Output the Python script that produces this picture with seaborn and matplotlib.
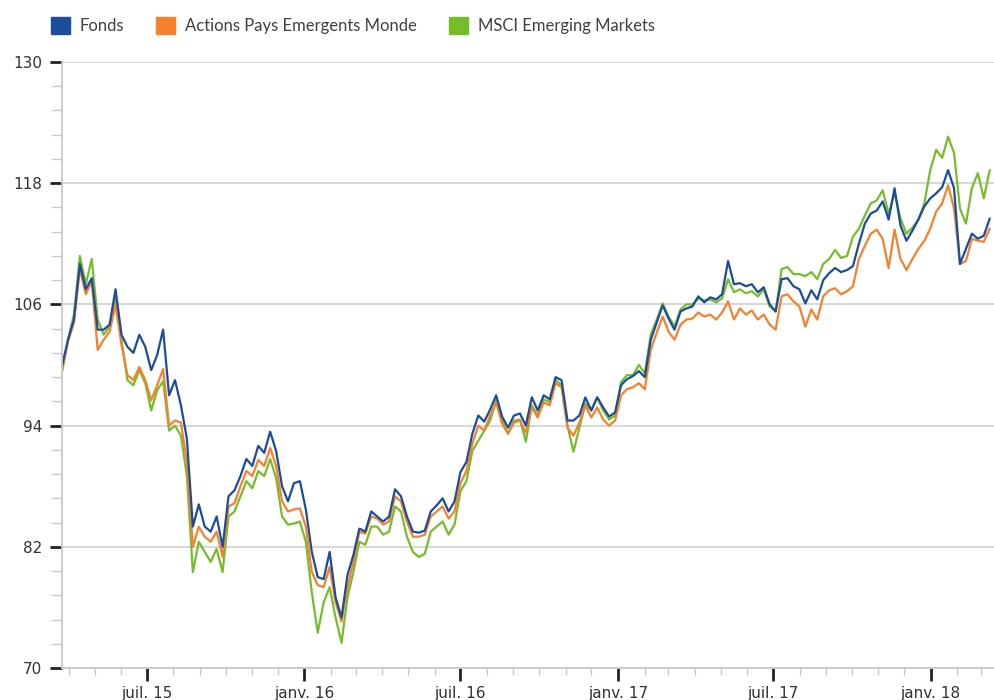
import numpy as np
import pandas as pd
import matplotlib
matplotlib.use('Agg')
import matplotlib.pyplot as plt
import matplotlib.dates as mdates
from matplotlib.patches import Patch
from matplotlib.ticker import FixedLocator
import seaborn as sns

# weekly values (base 100)
dates = pd.date_range('2015-03-24', '2018-03-11', periods=157)

fonds = [99.9, 102.5, 104.5, 110, 107.5, 108.6, 103.5, 103.5, 104, 107.5,
         103, 101.8, 101.2, 103, 101.8, 99.5, 101, 103.5, 97, 98.5,
         96, 92.7, 84, 86.2, 84, 83.5, 85, 82, 87, 87.6,
         89, 90.7, 90, 92, 91.3, 93.4, 91.5, 88, 86.5, 88.3,
         88.5, 85.7, 81.5, 79, 78.8, 81.5, 77, 75, 79.2, 81.2,
         83.8, 83.5, 85.5, 85, 84.5, 85, 87.7, 87, 85, 83.5,
         83.4, 83.6, 85.5, 86.1, 86.8, 85.5, 86.5, 89.4, 90.4, 93.2,
         95, 94.4, 95.6, 97, 94.9, 93.8, 95, 95.2, 94, 96.8,
         95.5, 97, 96.6, 98.8, 98.5, 94.5, 94.5, 95, 96.8, 95.5,
         96.8, 95.8, 94.9, 95.3, 98, 98.6, 98.9, 99.4, 98.8, 102.5,
         104.2, 105.9, 104.6, 103.5, 105.3, 105.6, 105.8, 106.8, 106.2, 106.7,
         106.5, 107, 110.3, 108, 108.1, 107.8, 108, 107.2, 107.7, 106,
         105.3, 108.5, 108.6, 107.8, 107.5, 106.1, 107.4, 106.5, 108.4, 109.1,
         109.6, 109.2, 109.4, 109.8, 112, 114, 115, 115.3, 116.2, 114.4,
         117.5, 113.8, 112.3, 113.3, 114.4, 115.7, 116.5, 117, 117.6, 119.3,
         117.5, 110, 111.5, 113, 112.5, 112.8, 114.5]

actions = [99.5, 102.3, 104.2, 109.5, 107, 108.3, 101.5, 102.5, 103.3, 106,
           102, 99, 98.5, 99.8, 98.5, 96.5, 98, 99.6, 94, 94.5,
           94.3, 90.4, 82, 84, 83, 82.5, 83.5, 81, 86, 86.3,
           88, 89.5, 89, 90.6, 90, 91.8, 90, 86.5, 85.5, 85.7,
           85.8, 84, 79.5, 78.2, 78, 80, 76.5, 74.6, 78, 80.5,
           83.5, 83.3, 85, 84.8, 84.2, 84.5, 87, 86.5, 84.5, 83,
           83, 83.2, 85, 85.5, 86, 84.8, 85.5, 88.3, 89.5, 92.2,
           94, 93.5, 95, 96.3, 94.2, 93.2, 94.3, 94.5, 93.3, 95.8,
           94.8, 96.3, 96, 98.2, 97.8, 93.8, 93, 94.3, 96, 94.8,
           95.8, 94.6, 94, 94.5, 97, 97.6, 97.8, 98.2, 97.6, 101.5,
           103.2, 104.8, 103.3, 102.5, 104, 104.5, 104.6, 105.2, 104.8, 105,
           104.5, 105.2, 106.3, 104.5, 105.6, 105, 105.4, 104.5, 105, 104,
           103.5, 106.8, 107, 106.3, 105.8, 103.8, 105.5, 104.5, 106.8, 107.4,
           107.6, 107, 107.3, 107.8, 110.5, 111.8, 113, 113.4, 112.5, 109.6,
           113.4, 110.5, 109.4, 110.5, 111.5, 112.3, 113.5, 115.2, 116, 117.8,
           115.5, 110, 110.3, 112.5, 112.3, 112.2, 113.5]

msci = [99.3, 102.5, 105, 110.8, 108, 110.5, 104.5, 103, 103.8, 106.8,
        102.5, 98.5, 98, 99.5, 98.2, 95.5, 97.5, 98.4, 93.5, 94,
        93, 89, 79.5, 82.5, 81.5, 80.5, 81.8, 79.5, 85, 85.5,
        87, 88.5, 87.8, 89.5, 89, 90.7, 88.8, 85, 84.2, 84.3,
        84.5, 82.5, 77.5, 73.5, 76.5, 78, 75, 72.5, 77, 79.5,
        82.5, 82.2, 84, 84, 83.2, 83.5, 86, 85.5, 83, 81.5,
        81, 81.3, 83.5, 84, 84.5, 83.2, 84.2, 87.5, 88.5, 91.5,
        92.5, 93.5, 94.5, 96.5, 94.5, 93.2, 94.5, 94.6, 92.4, 96,
        95, 96.6, 96.3, 98.5, 98, 94, 91.4, 93.8, 96.2, 95.5,
        96.8, 95.5, 94.6, 95, 98.3, 99, 99, 100, 99.2, 103,
        104.5, 106.1, 104.8, 103.8, 105.5, 106, 106, 106.6, 106.4, 106.5,
        106.2, 106.6, 108.5, 107.2, 107.5, 107.1, 107.3, 106.8, 107.5, 105.8,
        105.3, 109.5, 109.7, 109, 109, 108.8, 109.2, 108.5, 110, 110.5,
        111.4, 110.6, 110.8, 112.7, 113.5, 114.8, 116, 116.3, 117.3, 115,
        117, 114.5, 113, 113.6, 114.4, 116, 119.3, 121.3, 120.5, 122.6,
        121, 115.5, 114, 117.5, 119, 116.5, 119.3]

series_names = ['Fonds', 'Actions Pays Emergents Monde', 'MSCI Emerging Markets']
colors = ['#1c4c9c', '#f4812e', '#76bd2b']
tick_dates = pd.to_datetime(['2015-07-01', '2016-01-01', '2016-07-01',
                             '2017-01-01', '2017-07-01', '2018-01-01'])
tick_labels = ['juil. 15', 'janv. 16', 'juil. 16', 'janv. 17', 'juil. 17', 'janv. 18']
y_ticks = [70, 82, 94, 106, 118, 130]

df = pd.DataFrame({'date': dates, series_names[0]: fonds,
                   series_names[1]: actions, series_names[2]: msci})
df = df.melt(id_vars='date', var_name='serie', value_name='valeur')

sns.set_style('white')
plt.rcParams['font.family'] = ['DejaVu Sans']

fig = plt.figure(figsize=(9.94, 7), dpi=100)
ax = fig.add_axes([0.0624, 0.0457, 0.9376, 0.8657])

# draw the fund last so it sits on top
sns.lineplot(data=df, x='date', y='valeur', hue='serie',
             hue_order=series_names[::-1], palette=colors[::-1],
             linewidth=1.6, legend=False, ax=ax)

ax.set_xlim(pd.Timestamp('2015-03-24'), pd.Timestamp('2018-03-16'))
ax.set_ylim(70, 130)
ax.set_xlabel('')
ax.set_ylabel('')

ax.set_yticks(y_ticks)
ax.yaxis.set_minor_locator(FixedLocator(np.arange(70, 130.1, 2.4)))
ax.set_xticks(tick_dates)
ax.set_xticklabels(tick_labels)
ax.xaxis.set_minor_locator(mdates.MonthLocator())

ax.grid(axis='y', which='major', color='#d4d4d4', linewidth=1.3)
ax.set_axisbelow(True)
for side in ['top', 'right']:
    ax.spines[side].set_visible(False)
for side in ['left', 'bottom']:
    ax.spines[side].set_color('#c8c8c8')
    ax.spines[side].set_linewidth(1.3)

ax.tick_params(axis='y', which='major', length=8.5, width=2, color='#222222',
               labelsize=11, labelcolor='#333333', pad=6, left=True)
ax.tick_params(axis='y', which='minor', length=8, width=1, color='#c8c8c8', left=True)
ax.tick_params(axis='x', which='major', length=9, width=2, color='#222222',
               labelsize=11, labelcolor='#333333', pad=4, bottom=True)
ax.tick_params(axis='x', which='minor', length=5, width=1, color='#c8c8c8', bottom=True)

handles = [Patch(facecolor=c, edgecolor=c, label=n) for c, n in zip(colors, series_names)]
fig.legend(handles=handles, loc='center left', bbox_to_anchor=(0.051, 0.964),
           ncol=3, frameon=False, handlelength=1.15, handleheight=1.2,
           handletextpad=0.6, columnspacing=1.9, borderaxespad=0, borderpad=0,
           prop={'family': 'Lato', 'size': 12}, labelcolor='#404040')

fig.savefig('out.png', dpi=100)
